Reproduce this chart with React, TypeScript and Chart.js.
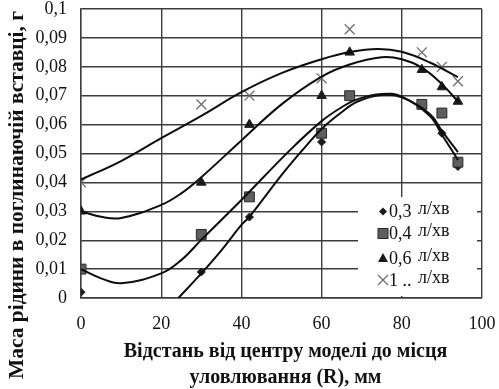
import React, { useEffect, useRef } from 'react';
import { Chart, registerables } from 'chart.js';

Chart.register(...registerables);

// Measured points (x = distance R, mm; y = mass, g)
const flow03X = [0, 30, 42, 60, 90, 94];
const flow03Y = [0.002, 0.009, 0.028, 0.054, 0.057, 0.0455];
const pointsX = [0, 30, 42, 60, 67, 85, 90, 94];
const flow04Y = [0.010, 0.022, 0.035, 0.057, 0.070, 0.067, 0.064, 0.047];
const flow06Y = [0.030, 0.040, 0.060, 0.070, 0.085, 0.079, 0.073, 0.068];
const flow10Y = [0.040, 0.067, 0.070, 0.076, 0.093, 0.085, 0.080, 0.075];

// Trend curves
const trend03X = [24.3, 30, 35, 40, 42, 50, 55, 60, 65, 69, 75, 80, 87, 90, 94];
const trend03Y = [0, 0.0085, 0.0165, 0.0253, 0.0281, 0.0425, 0.0508, 0.0585, 0.0643, 0.0680, 0.0702, 0.0694, 0.0637, 0.0578, 0.0505];
const trend04X = [0, 5, 10, 20, 25, 30, 40, 52, 60, 65, 69, 75, 80, 87, 90, 94];
const trend04Y = [0.010, 0.0068, 0.0051, 0.0085, 0.0131, 0.0201, 0.0339, 0.051, 0.0612, 0.0660, 0.0688, 0.0706, 0.0697, 0.063, 0.0565, 0.0478];
const trend06X = [0, 5, 10, 20, 25, 30, 40, 50, 60, 67, 75, 80, 85, 90, 94];
const trend06Y = [0.030, 0.0281, 0.0277, 0.0322, 0.0362, 0.0418, 0.0545, 0.067, 0.0766, 0.0808, 0.0833, 0.0826, 0.0797, 0.074, 0.068];
const trend10X = [0, 10, 20, 30, 40, 50, 60, 67, 74, 80, 87, 94];
const trend10Y = [0.041, 0.0474, 0.0553, 0.063, 0.0712, 0.0778, 0.0826, 0.0851, 0.0862, 0.0852, 0.0815, 0.0764];

const legendNumbers = ['0,3', '0,4', '0,6', '1 ..'];
const legendUnit = 'л/хв';
const yTitle = 'Маса рідини в поглинаючій вставці, г';
const xTitle = ['Відстань від центру моделі до місця', 'уловлювання (R), мм'];

const SERIF = '"Liberation Serif", "Times New Roman", serif';

const zip = (xs: number[], ys: number[]) => xs.map((x, i) => ({ x, y: ys[i] }));

function drawMarker(ctx: CanvasRenderingContext2D, kind: number, x: number, y: number) {
  ctx.save();
  if (kind === 0) {
    ctx.fillStyle = '#1a1a1a';
    ctx.beginPath();
    ctx.moveTo(x, y - 4);
    ctx.lineTo(x + 4, y);
    ctx.lineTo(x, y + 4);
    ctx.lineTo(x - 4, y);
    ctx.closePath();
    ctx.fill();
  } else if (kind === 1) {
    ctx.fillStyle = '#5e5e5e';
    ctx.strokeStyle = '#2a2a2a';
    ctx.lineWidth = 1;
    ctx.fillRect(x - 5, y - 5, 10, 10);
    ctx.strokeRect(x - 5, y - 5, 10, 10);
  } else if (kind === 2) {
    ctx.fillStyle = '#1a1a1a';
    ctx.beginPath();
    ctx.moveTo(x, y - 5);
    ctx.lineTo(x + 5, y + 4);
    ctx.lineTo(x - 5, y + 4);
    ctx.closePath();
    ctx.fill();
  } else {
    ctx.strokeStyle = '#6e6e6e';
    ctx.lineWidth = 1.3;
    ctx.beginPath();
    ctx.moveTo(x - 5, y - 5);
    ctx.lineTo(x + 5, y + 5);
    ctx.moveTo(x + 5, y - 5);
    ctx.lineTo(x - 5, y + 5);
    ctx.stroke();
  }
  ctx.restore();
}

const decorPlugin = {
  id: 'decor',
  afterDraw(chart: any) {
    const { ctx, chartArea } = chart;
    ctx.save();
    // legend box inside plot area, lower right
    const bx = chartArea.right - 124;
    const by = chartArea.bottom - 101;
    ctx.fillStyle = '#ffffff';
    ctx.fillRect(bx, by, 119, 99);
    const rows = [14.5, 36.5, 61, 83];
    legendNumbers.forEach((num, i) => {
      const ry = by + rows[i];
      drawMarker(ctx, i, bx + 25, ry);
      ctx.fillStyle = '#111';
      ctx.font = `18px ${SERIF}`;
      ctx.textBaseline = 'middle';
      ctx.textAlign = 'left';
      ctx.fillText(num, bx + 31, ry + 1);
      ctx.fillText(legendUnit, bx + 60, ry - 2);
    });

    // y-axis title
    ctx.font = `bold 21.4px ${SERIF}`;
    ctx.fillStyle = '#111';
    ctx.textAlign = 'center';
    ctx.textBaseline = 'middle';
    ctx.translate(17, 195);
    ctx.rotate(-Math.PI / 2);
    ctx.fillText(yTitle, 0, 0);
    ctx.restore();

    // x-axis title
    ctx.save();
    ctx.font = `bold 20px ${SERIF}`;
    ctx.fillStyle = '#111';
    ctx.textAlign = 'center';
    ctx.textBaseline = 'middle';
    const cx = (chartArea.left + chartArea.right) / 2 + 4;
    ctx.fillText(xTitle[0], cx, chartArea.bottom + 54);
    ctx.fillText(xTitle[1], cx, chartArea.bottom + 80);
    ctx.restore();
  },
};

export default function App() {
  const ref = useRef<HTMLCanvasElement>(null);

  useEffect(() => {
    document.body.style.margin = '0';
    const canvas = ref.current;
    if (!canvas) return;
    const trendStyle = {
      showLine: true,
      pointRadius: 0,
      pointHoverRadius: 0,
      borderColor: '#0d0d0d',
      borderWidth: 2,
      backgroundColor: 'transparent',
      tension: 0.4,
      order: 0,
    };
    const gridStyle = { color: '#3c3c3c', lineWidth: 1.4, drawTicks: false };
    const chart = new Chart(canvas, {
      type: 'scatter',
      data: {
        datasets: [
          { ...trendStyle, label: 't03', data: zip(trend03X, trend03Y) },
          { ...trendStyle, label: 't04', data: zip(trend04X, trend04Y) },
          { ...trendStyle, label: 't06', data: zip(trend06X, trend06Y) },
          { ...trendStyle, label: 't10', data: zip(trend10X, trend10Y) },
          {
            label: '0,3 л/хв',
            data: zip(flow03X, flow03Y),
            pointStyle: 'rectRot',
            pointRadius: 4,
            backgroundColor: '#1a1a1a',
            borderColor: '#1a1a1a',
            borderWidth: 1,
            order: 4,
          },
          {
            label: '0,4 л/хв',
            data: zip(pointsX, flow04Y),
            pointStyle: 'rect',
            pointRadius: 7,
            backgroundColor: '#5e5e5e',
            borderColor: '#2a2a2a',
            borderWidth: 1,
            order: 3,
          },
          {
            label: '0,6 л/хв',
            data: zip(pointsX, flow06Y),
            pointStyle: 'triangle',
            pointRadius: 5.5,
            backgroundColor: '#1a1a1a',
            borderColor: '#1a1a1a',
            borderWidth: 1,
            order: 2,
          },
          {
            label: '1 .. л/хв',
            data: zip(pointsX, flow10Y),
            pointStyle: 'crossRot',
            pointRadius: 7,
            backgroundColor: '#6e6e6e',
            borderColor: '#6e6e6e',
            borderWidth: 1.3,
            order: 1,
          },
        ],
      },
      options: {
        animation: false,
        responsive: false,
        devicePixelRatio: 1,
        layout: { padding: { left: 0, right: 17, top: 9, bottom: 0 } },
        plugins: {
          legend: { display: false },
          tooltip: { enabled: false },
        },
        scales: {
          x: {
            type: 'linear',
            min: 0,
            max: 100,
            afterFit: (s: any) => { s.height = 91; s.paddingLeft = 0; s.paddingRight = 0; },
            ticks: {
              stepSize: 20,
              padding: 17,
              color: '#111',
              font: { family: SERIF, size: 18, lineHeight: 1 },
            },
            grid: gridStyle,
            border: { color: '#3c3c3c', width: 1.4 },
          },
          y: {
            type: 'linear',
            min: 0,
            max: 0.1,
            afterFit: (s: any) => { s.width = 81; s.paddingTop = 0; s.paddingBottom = 0; },
            ticks: {
              stepSize: 0.01,
              padding: 14,
              color: '#111',
              font: { family: SERIF, size: 18, lineHeight: 1 },
              callback: (v: any) => String(Number(Number(v).toFixed(2))).replace('.', ','),
            },
            grid: gridStyle,
            border: { color: '#3c3c3c', width: 1.4 },
          },
        },
      },
      plugins: [decorPlugin],
    });
    return () => chart.destroy();
  }, []);

  return (
    <div style={{ width: 499, height: 389, background: '#fff' }}>
      <canvas ref={ref} width={499} height={389} />
    </div>
  );
}
